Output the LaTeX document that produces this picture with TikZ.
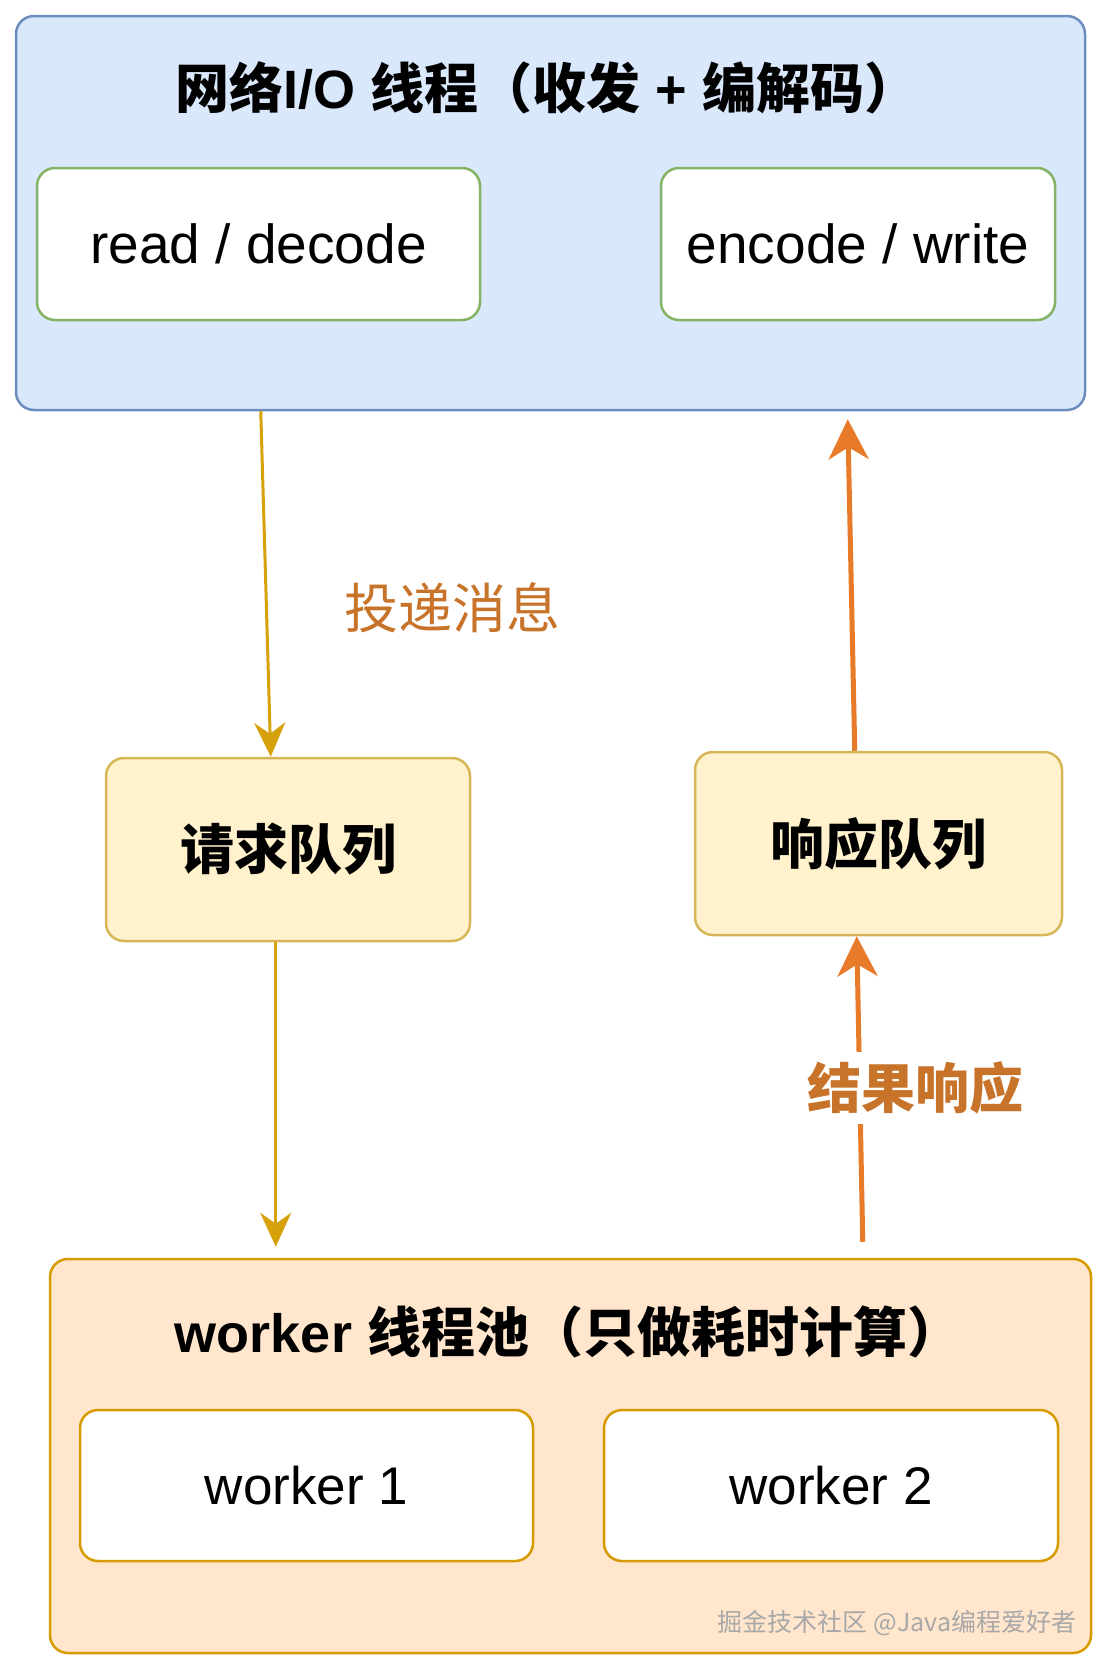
\documentclass[tikz,border=0pt]{standalone}
\usepackage{fontspec}
\setmainfont{Liberation Sans}
\newfontfamily\cjk{Noto Sans CJK SC}
\usetikzlibrary{arrows.meta}
\definecolor{blueFill}{HTML}{DAE8FC}
\definecolor{blueLine}{HTML}{6C8EBF}
\definecolor{greenLine}{HTML}{82B366}
\definecolor{yelFill}{HTML}{FFF2CC}
\definecolor{yelLine}{HTML}{D6B656}
\definecolor{orFill}{HTML}{FFE6CC}
\definecolor{orLine}{HTML}{D79B00}
\definecolor{goldArrow}{HTML}{D6A10A}
\definecolor{orArrow}{HTML}{E87B2A}
\definecolor{labelCol}{HTML}{C8732A}
\definecolor{wmCol}{HTML}{A8A8A8}
\tikzset{
  box/.style={draw, rounded corners=18pt, line width=2.5pt, inner sep=0pt, text=black},
  group/.style={box, fill=blueFill, draw=blueLine},
  pool/.style={box, fill=orFill, draw=orLine},
  iobox/.style={box, fill=white, draw=greenLine, font=\fontsize{55}{60}\selectfont},
  queue/.style={box, fill=yelFill, draw=yelLine, font=\fontsize{54}{60}\selectfont\cjk\bfseries},
  wbox/.style={box, fill=white, draw=orLine, font=\fontsize{53}{60}\selectfont},
  title/.style={inner sep=0pt, font=\fontsize{54}{60}\selectfont\bfseries},
  goldarrow/.style={draw=goldArrow, line width=3pt, -{Stealth[length=34pt,width=31pt,inset=11pt]}, fill=goldArrow},
  orarrow/.style={draw=orArrow, line width=5pt, -{Stealth[length=40pt,width=40pt,inset=12pt]}, fill=orArrow},
  lbl/.style={inner sep=0pt, text=labelCol, font=\fontsize{54}{60}\selectfont\cjk},
}
\begin{document}
\begin{tikzpicture}[x=1pt,y=-1pt]
\useasboundingbox (0,0) rectangle (1113,1673);
% groups
\node[group, minimum width=1069pt, minimum height=394pt] (top) at (550.5,213) {};
\node[pool, minimum width=1041pt, minimum height=394pt] (pool) at (570.5,1456) {};
% titles
\node[title] (ttop) at (547,88) {{\cjk 网络}I/O {\cjk 线程（收发} + {\cjk 编解码）}};
\node[title] (tpool) at (568,1332) {worker {\cjk 线程池（只做耗时计算）}};
% io boxes
\node[iobox, minimum width=443pt, minimum height=152pt] (read) at (258.5,244) {read / decode};
\node[iobox, minimum width=394pt, minimum height=152pt] (write) at (858,244) {encode / write};
% queues
\node[queue, minimum width=364pt, minimum height=183pt] (req) at (288,849.5) {请求队列};
\node[queue, minimum width=367pt, minimum height=183pt] (resp) at (878.5,843.5) {响应队列};
% workers
\node[wbox, minimum width=453pt, minimum height=151pt] (w1) at (306.5,1485.5) {worker 1};
\node[wbox, minimum width=454pt, minimum height=151pt] (w2) at (831,1485.5) {worker 2};
% arrows
\draw[goldarrow] ([xshift=246pt]top.south west) -- ([xshift=166pt]req.north west);
\draw[goldarrow] ([xshift=171pt]req.south west) -- ([xshift=227pt,yshift=11pt]pool.north west);
\draw[orarrow] ([xshift=161pt]resp.north west) -- ([xshift=833pt,yshift=-8pt]top.south west);
\draw[orarrow] ([xshift=814pt,yshift=16pt]pool.north west) -- ([xshift=163pt]resp.south west);
% labels
\node[lbl] (l1) at (452,608) {投递消息};
\node[lbl, fill=white, inner xsep=2pt, inner ysep=10pt, font=\fontsize{54}{60}\selectfont\cjk\bfseries] (l2) at (915,1088) {结果响应};
% watermark
\node[inner sep=0pt, text=wmCol, font=\fontsize{25}{28}\selectfont\cjk] (wm) at (897,1623) {掘金技术社区 @Java编程爱好者};
\end{tikzpicture}
\end{document}
